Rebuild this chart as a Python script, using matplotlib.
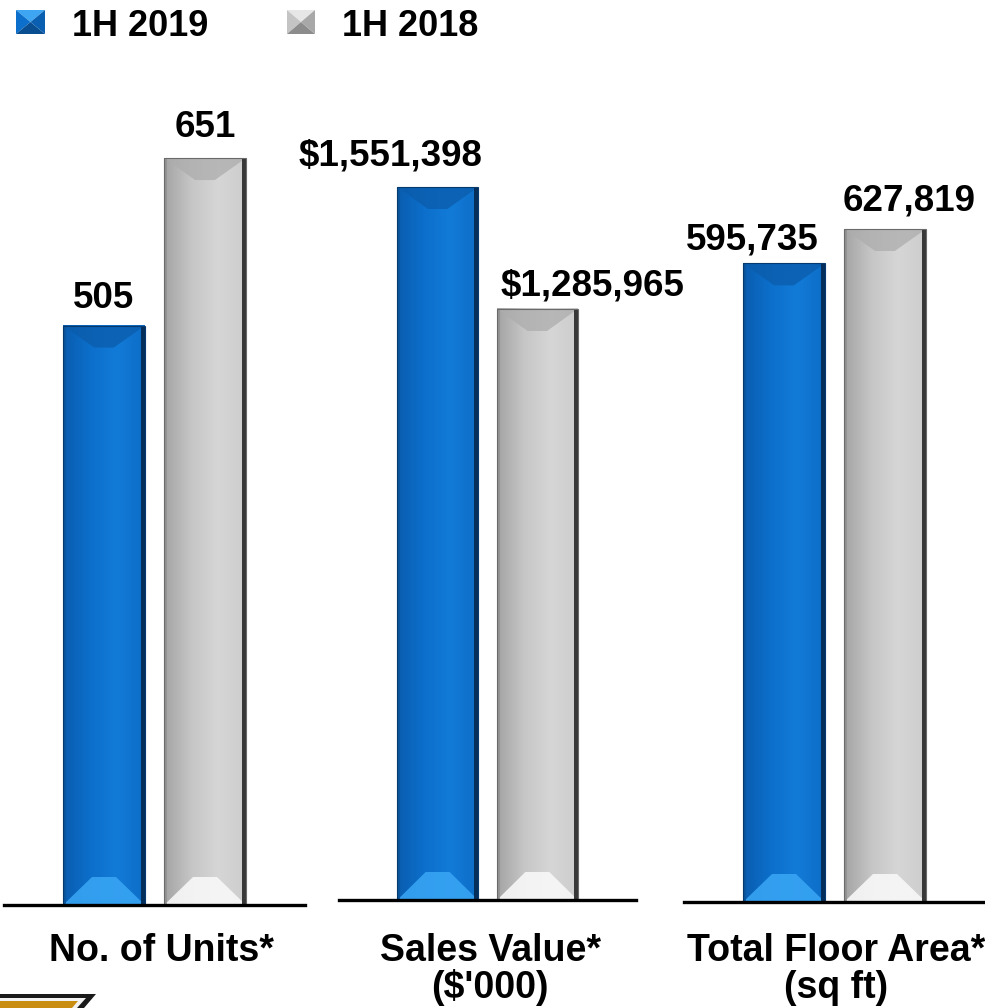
import matplotlib
matplotlib.use('Agg')
import matplotlib.pyplot as plt
import numpy as np
from matplotlib.colors import LinearSegmentedColormap
from matplotlib.patches import Polygon, Rectangle

SERIES = ['1H 2019', '1H 2018']
METRICS = ['No. of Units*', 'Sales Value*', 'Total Floor Area*']
METRIC_UNITS = ['', "($'000)", '(sq ft)']
UNITS = [505, 651]
SALES = [1551398, 1285965]
AREA = [595735, 627819]
PREFIX = ['', '$', '']

W, H = 985, 1008
# panel geometry in pixels: left, right, baseline, top
PANELS = [(4, 305, 905), (339, 636, 900), (684, 985, 902)]
TOP = 100
YTOP = [701.6, 1.7407e6, 7.4816e5]
LABEL_OFF = [[(0, 18), (0, 21)], [(-47, 22), (55, 13)], [(-32, 14), (24, 19)]]
TITLE_X = [161, 490, 836]

STYLES = [
    {'cmap': ['#0A5DB0', '#0C6FCB', '#127BD8', '#0D6DC6'],
     'top': '#0B5CAB', 'bot': '#38A4F3', 'left': '#0A5398',
     'right': '#052F5A', 'edge': '#063A6E'},
    {'cmap': ['#A4A4A4', '#C6C6C6', '#D6D6D6', '#CDCDCD'],
     'top': '#ADADAD', 'bot': '#F8F8F8', 'left': '#8F8F8F',
     'right': '#383838', 'edge': '#6A6A6A'},
]
FONT = ['Liberation Sans', 'DejaVu Sans']


def bevel_bar(ax, x, h, width, st):
    x0, x1 = x - width / 2, x + width / 2
    xspan = np.diff(ax.get_xlim())[0]
    sx = ax.bbox.width / xspan
    sy = ax.bbox.height / ax.get_ylim()[1]
    px = lambda p: p / sx
    py = lambda p: p / sy
    grad = np.linspace(0, 1, 64).reshape(1, -1)
    cmap = LinearSegmentedColormap.from_list('g', st['cmap'])
    ax.imshow(grad, cmap=cmap, extent=(x0, x1, 0, h), aspect='auto',
              zorder=2, interpolation='bilinear')
    wpx = width * sx
    ax.add_patch(Polygon([(x0, h), (x1, h), (x + px(0.12 * wpx), h - py(22)),
                          (x - px(0.12 * wpx), h - py(22))],
                         closed=True, fc=st['top'], ec='none', alpha=0.75, zorder=3))
    ax.add_patch(Polygon([(x0, 0), (x1, 0), (x + px(12), py(28)),
                          (x - px(12), py(28))],
                         closed=True, fc=st['bot'], ec='none', alpha=0.9, zorder=3))
    ax.add_patch(Rectangle((x0, 0), px(3), h, fc=st['left'], ec='none',
                           alpha=0.8, zorder=3))
    ax.add_patch(Rectangle((x1 - px(4), 0), px(4), h, fc=st['right'], ec='none',
                           zorder=3))
    ax.add_patch(Rectangle((x0, 0), width, h, fc='none', ec=st['edge'],
                           lw=0.8, zorder=4))


def main():
    plt.rcParams.update({'font.family': FONT, 'font.weight': 'bold'})
    fig = plt.figure(figsize=(W / 100, H / 100), dpi=100)
    data = [UNITS, SALES, AREA]
    for k, (l, r, base) in enumerate(PANELS):
        ax = fig.add_axes([l / W, 1 - base / H, (r - l) / W, (base - TOP) / H])
        ax.set_xlim(-0.99, 1.99)
        ax.set_ylim(0, YTOP[k])
        ax.set_autoscale_on(False)
        for side in ('top', 'left', 'right'):
            ax.spines[side].set_visible(False)
        ax.spines['bottom'].set_linewidth(2.4)
        ax.spines['bottom'].set_zorder(5)
        ax.set_xticks([])
        ax.set_yticks([])
        ax.patch.set_alpha(0)
        for i, v in enumerate(data[k]):
            bevel_bar(ax, i, v, 0.81, STYLES[i])
            ax.annotate(f'{PREFIX[k]}{v:,}', xy=(i, v),
                        xytext=LABEL_OFF[k][i], textcoords='offset pixels',
                        ha='center', va='baseline', fontsize=26.5,
                        fontweight='bold')

    ov = fig.add_axes([0, 0, 1, 1])
    ov.set_xlim(0, W)
    ov.set_ylim(H, 0)
    ov.axis('off')

    # legend icons (beveled squares)
    icons = [(16, 45), (287, 315)]
    icon_cols = [['#3DA5F2', '#0C6FCB', '#0A4E92', '#0A5FB0'],
                 ['#E6E6E6', '#C4C4C4', '#8C8C8C', '#A8A8A8']]
    text_x = [72, 342]
    for (a, b), cols, tx, name in zip(icons, icon_cols, text_x, SERIES):
        t, btm = 10, 34
        cx, cy = (a + b) / 2, (t + btm) / 2
        tris = [[(a, t), (b, t), (cx, cy)], [(a, t), (a, btm), (cx, cy)],
                [(a, btm), (b, btm), (cx, cy)], [(b, t), (b, btm), (cx, cy)]]
        for tri, c in zip(tris, cols):
            ov.add_patch(Polygon(tri, closed=True, fc=c, ec='none'))
        ov.text(tx, 36, name, fontsize=26, fontweight='bold', va='baseline')

    for x, name, unit in zip(TITLE_X, METRICS, METRIC_UNITS):
        ov.text(x, 961, name, fontsize=27, fontweight='bold',
                ha='center', va='baseline')
        if unit:
            ov.text(x, 998, unit, fontsize=27, fontweight='bold',
                    ha='center', va='baseline')

    # partial logo at the bottom-left edge
    ov.add_patch(Polygon([(0, 994), (96, 994), (84, 1008), (0, 1008)],
                         closed=True, fc='#1A1A1A', ec='none'))
    ov.add_patch(Polygon([(0, 998), (86, 998), (77, 1008), (0, 1008)],
                         closed=True, fc='#F2F2F2', ec='none'))
    ov.add_patch(Polygon([(0, 1001), (78, 1001), (72, 1008), (0, 1008)],
                         closed=True, fc='#C98D12', ec='none'))

    fig.savefig('out.png', dpi=100, facecolor='white')


if __name__ == '__main__':
    main()
